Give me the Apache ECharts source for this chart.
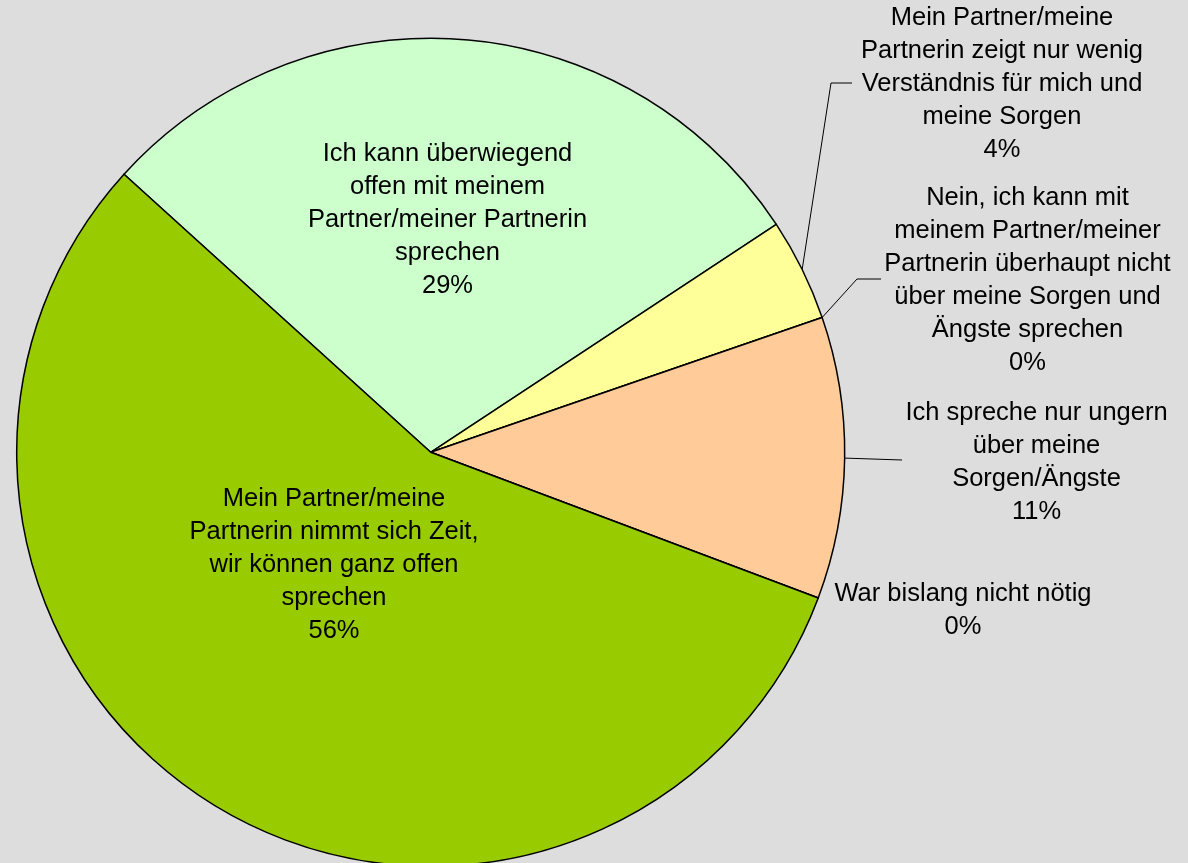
<!DOCTYPE html>
<html>
<head>
<meta charset="utf-8">
<title>Gespräche mit dem Partner / der Partnerin</title>
<script src="https://cdn.jsdelivr.net/npm/echarts@6/dist/echarts.min.js"></script>
<style>
  html, body { margin: 0; padding: 0; background: #dddddd; }
  #chart { width: 1188px; height: 863px; }
</style>
</head>
<body>
<div id="chart"></div>
<script>
// Answer categories, in drawing order (clockwise from the upper-left boundary)
const categories = [
  'Ich kann überwiegend\noffen mit meinem\nPartner/meiner Partnerin\nsprechen',
  'Mein Partner/meine\nPartnerin zeigt nur wenig\nVerständnis für mich und\nmeine Sorgen',
  'Nein, ich kann mit\nmeinem Partner/meiner\nPartnerin überhaupt nicht\nüber meine Sorgen und\nÄngste sprechen',
  'Ich spreche nur ungern\nüber meine\nSorgen/Ängste',
  'War bislang nicht nötig',
  'Mein Partner/meine\nPartnerin nimmt sich Zeit,\nwir können ganz offen\nsprechen'
];

// Share of answers in percent
const shares = [29, 4, 0, 11, 0, 56];

// Slice fills
const sliceColors = ['#ccffcc', '#ffff99', '#ffff99', '#ffcc99', '#ffcc99', '#99cc00'];

// Which labels sit inside their slice
const insideLabel = [true, false, false, false, false, true];

// Label block centres and leader line bends (page pixels)
const labelSpots = [[447.5, 220], [1002, 83.5], [1027.5, 280.5], [1036.5, 462], [963, 610.5], [334, 565]];
const leaderBends = [null, [[831, 83], [852, 83]], [[857, 279], [881, 279]], [[902, 460]], null, null];

const chart = echarts.init(document.getElementById('chart'), null, { renderer: 'canvas' });

const cx = 430.7, cy = 452.3, R = 414;

const data = categories.map((name, i) => ({
  name: name,
  value: shares[i],
  itemStyle: { color: sliceColors[i] },
  label: { position: insideLabel[i] ? 'inside' : 'outside' },
  labelLine: { show: !insideLabel[i] && leaderBends[i] !== null }
}));

chart.setOption({
  backgroundColor: '#dddddd',
  animation: false,
  series: [{
    type: 'pie',
    center: [cx, cy],
    radius: R,
    startAngle: 137.8,
    clockwise: true,
    avoidLabelOverlap: false,
    minShowLabelAngle: 0,
    stillShowZeroSum: true,
    itemStyle: { borderColor: '#000000', borderWidth: 1.5 },
    emphasis: { disabled: true },
    label: {
      show: true,
      color: '#000000',
      fontFamily: '"Liberation Sans", Arial, sans-serif',
      fontSize: 25.5,
      lineHeight: 33,
      align: 'center',
      formatter: p => p.name + '\n' + Math.round(p.percent) + '%'
    },
    labelLine: {
      show: true,
      length: 10,
      length2: 10,
      lineStyle: { color: '#000000', width: 1 }
    },
    labelLayout: function (params) {
      const i = params.dataIndex;
      const spot = labelSpots[i];
      const out = { x: spot[0], y: spot[1], align: 'center', verticalAlign: 'middle' };
      if (leaderBends[i]) {
        let start;
        if (params.labelLinePoints && params.labelLinePoints.length) {
          start = params.labelLinePoints[0];
        } else {
          start = [cx, cy];
        }
        out.labelLinePoints = [[start[0], start[1]]].concat(leaderBends[i]);
      }
      return out;
    },
    data: data
  }]
});
</script>
</body>
</html>
